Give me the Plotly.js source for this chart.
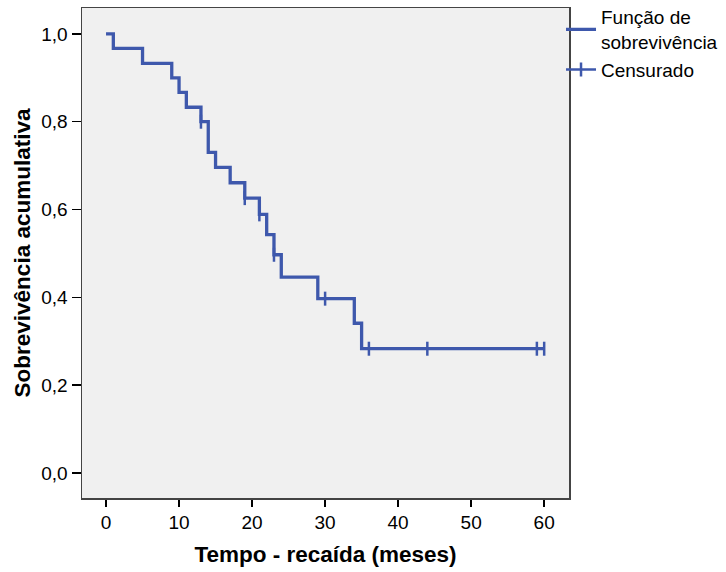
<!DOCTYPE html>
<html>
<head>
<meta charset="utf-8">
<script src="https://cdn.plot.ly/plotly-3.0.1.min.js"></script>
<style>html,body{margin:0;padding:0;background:#fff;}#chart{width:726px;height:572px;}</style>
</head>
<body>
<div id="chart"></div>
<script>
// Kaplan-Meier step values
var eventTimes = [0, 1, 5, 9, 10, 11, 13, 14, 15, 17, 19, 21, 22, 23, 24, 29, 34, 35];
var survival   = [1.0, 0.967, 0.933, 0.900, 0.867, 0.833, 0.800, 0.730, 0.696, 0.661, 0.626, 0.589, 0.543, 0.497, 0.446, 0.397, 0.341, 0.283];
var censorTimes = [13, 19, 21, 23, 30, 36, 44, 59, 60];
var censorSurv  = [0.800, 0.626, 0.589, 0.497, 0.397, 0.283, 0.283, 0.283, 0.283];
var xTicks = [0, 10, 20, 30, 40, 50, 60];
var yTicks = [0.0, 0.2, 0.4, 0.6, 0.8, 1.0];

var lineColor = '#3e58ac';
var endTime = Math.max.apply(null, censorTimes);
var stepX = eventTimes.concat([endTime]);
var stepY = survival.concat([survival[survival.length - 1]]);

var cx = [], cy = [];
for (var i = 0; i < censorTimes.length; i++) {
  if (i > 0) { cx.push(null); cy.push(null); }
  cx.push(censorTimes[i]); cy.push(censorSurv[i]);
}

var traces = [
  {
    x: stepX, y: stepY, type: 'scatter', mode: 'lines',
    line: {shape: 'hv', color: lineColor, width: 3.3},
    name: 'Função de<br>sobrevivência', hoverinfo: 'x+y'
  },
  {
    x: cx, y: cy, type: 'scatter', mode: 'lines+markers',
    connectgaps: false,
    line: {color: lineColor, width: 2.5},
    marker: {symbol: 'line-ns', size: 10, color: lineColor, line: {color: lineColor, width: 2.5}},
    name: 'Censurado', hoverinfo: 'x+y'
  }
];

var fontFam = 'Liberation Sans, Arial, sans-serif';
var layout = {
  width: 726, height: 572,
  margin: {l: 82, r: 157, t: 8, b: 74, autoexpand: false},
  paper_bgcolor: '#ffffff',
  plot_bgcolor: '#f0f0f0',
  separators: ', ',
  font: {family: fontFam, size: 19, color: '#000'},
  showlegend: true,
  legend: {
    x: 0.9836, xanchor: 'left', y: 1.02, yanchor: 'top',
    bgcolor: 'rgba(0,0,0,0)', borderwidth: 0,
    font: {family: fontFam, size: 19, color: '#000'},
    tracegroupgap: 0, itemwidth: 30
  },
  xaxis: {
    range: [-3.29, 63.4], tickvals: xTicks, tickformat: 'd',
    ticks: 'outside', ticklen: 7, tickwidth: 1.5, tickcolor: '#000',
    showgrid: false, zeroline: false, automargin: false,
    showline: true, linecolor: '#444', linewidth: 1.5, mirror: true,
    tickfont: {family: fontFam, size: 19, color: '#000'},
    title: {text: 'Tempo - recaída (meses)', font: {family: fontFam, size: 22.5, color: '#000', weight: 'bold'}, standoff: 14}
  },
  yaxis: {
    range: [-0.057, 1.059], tickvals: yTicks, tickformat: '.1f',
    ticks: 'outside', ticklen: 9, tickwidth: 1.5, tickcolor: '#000',
    showgrid: false, zeroline: false, automargin: false,
    showline: true, linecolor: '#444', linewidth: 1.5, mirror: true,
    tickfont: {family: fontFam, size: 19, color: '#000'},
    title: {text: 'Sobrevivência acumulativa', font: {family: fontFam, size: 22.5, color: '#000', weight: 'bold'}, standoff: 4}
  }
};

Plotly.newPlot('chart', traces, layout, {displayModeBar: false, staticPlot: true});
</script>
</body>
</html>
